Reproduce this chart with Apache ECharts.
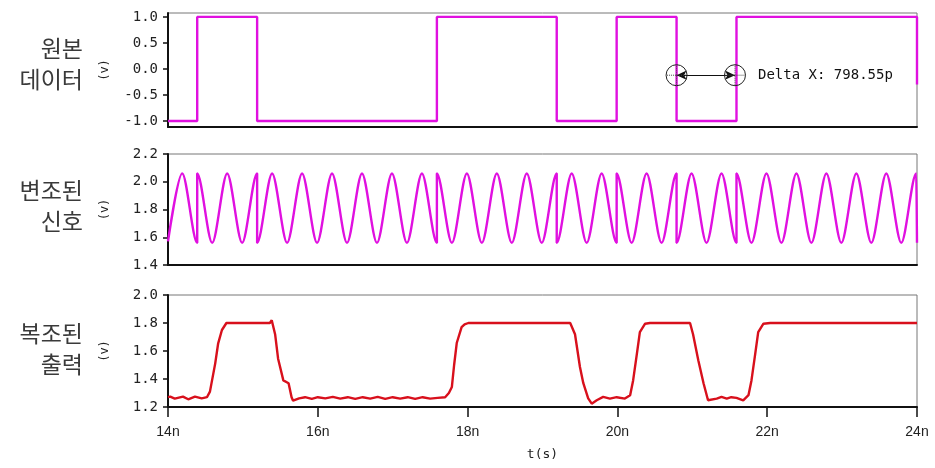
<!DOCTYPE html>
<html><head><meta charset="utf-8">
<script src="https://cdn.jsdelivr.net/npm/echarts@6/dist/echarts.min.js"></script>
<style>html,body{margin:0;padding:0;background:#fff}#c{width:935px;height:468px}</style>
</head><body><div id="c"></div>
<script>
// ---- data (time in ns, voltage in V) ----
const xTicks = [14, 16, 18, 20, 22, 24];
const dataTimes = [14.0, 14.39, 14.39, 15.19, 15.19, 17.59, 17.59, 19.19, 19.19, 19.99, 19.99, 20.79, 20.79, 21.59, 21.59, 24.0, 24.0];
const dataVolts = [-1.0, -1.0, 1.0, 1.0, -1.0, -1.0, 1.0, 1.0, -1.0, -1.0, 1.0, 1.0, -1.0, -1.0, 1.0, 1.0, -0.3];
const modTimes = [14.00, 14.19, 14.39, 14.39, 14.59, 14.79, 14.99, 15.19, 15.19, 15.39, 15.59, 15.79, 15.99, 16.19, 16.39, 16.59, 16.79, 16.99, 17.19, 17.39, 17.59, 17.59, 17.79, 17.99, 18.19, 18.39, 18.59, 18.79, 18.99, 19.19, 19.19, 19.39, 19.59, 19.79, 19.99, 19.99, 20.19, 20.39, 20.59, 20.79, 20.79, 20.99, 21.19, 21.39, 21.59, 21.59, 21.79, 21.99, 22.19, 22.39, 22.59, 22.79, 22.99, 23.19, 23.39, 23.59, 23.79, 23.99, 24.00];
const modVolts = [1.57, 2.06, 1.56, 2.06, 1.56, 2.06, 1.56, 2.06, 1.56, 2.06, 1.56, 2.06, 1.56, 2.06, 1.56, 2.06, 1.56, 2.06, 1.56, 2.06, 1.56, 2.06, 1.56, 2.06, 1.56, 2.06, 1.56, 2.06, 1.56, 2.06, 1.56, 2.06, 1.56, 2.06, 1.56, 2.06, 1.56, 2.06, 1.56, 2.06, 1.56, 2.06, 1.56, 2.06, 1.56, 2.06, 1.56, 2.06, 1.56, 2.06, 1.56, 2.06, 1.56, 2.06, 1.56, 2.06, 1.56, 2.06, 1.56];
const outTimes = [14.0, 14.03, 14.09, 14.2, 14.27, 14.36, 14.45, 14.52, 14.56, 14.63, 14.67, 14.72, 14.78, 15.36, 15.385, 15.43, 15.47, 15.54, 15.61, 15.65, 15.67,
  15.75, 15.83, 15.92, 16.0, 16.1, 16.2, 16.3, 16.4, 16.5, 16.6, 16.7, 16.8, 16.9, 17.0, 17.1, 17.2, 17.3, 17.4, 17.5, 17.6, 17.7,
  17.75, 17.79, 17.82, 17.855, 17.92, 17.96, 18.01, 19.37, 19.39, 19.434, 19.5, 19.545, 19.61, 19.657, 19.724, 19.81, 19.9, 19.99, 20.1, 20.17,
  20.21, 20.26, 20.3, 20.37, 20.435, 20.97, 21.01, 21.08, 21.15, 21.21, 21.236, 21.326, 21.39, 21.46, 21.52, 21.59, 21.68, 21.75,
  21.79, 21.84, 21.88, 21.95, 22.04, 24.0];
const outVolts = [1.27, 1.274, 1.26, 1.274, 1.255, 1.274, 1.262, 1.27, 1.31, 1.51, 1.655, 1.75, 1.80, 1.80, 1.82, 1.72, 1.545, 1.39, 1.37, 1.27, 1.245,
  1.262, 1.27, 1.258, 1.27, 1.262, 1.272, 1.26, 1.27, 1.258, 1.27, 1.26, 1.272, 1.258, 1.27, 1.26, 1.27, 1.258, 1.27, 1.26, 1.265, 1.27,
  1.30, 1.343, 1.50, 1.657, 1.77, 1.79, 1.80, 1.80, 1.81, 1.72, 1.486, 1.37, 1.262, 1.224, 1.248, 1.272, 1.26, 1.27, 1.26, 1.284,
  1.39, 1.58, 1.735, 1.795, 1.80, 1.80, 1.72, 1.534, 1.37, 1.248, 1.236, 1.26, 1.272, 1.26, 1.27, 1.265, 1.248, 1.284,
  1.39, 1.58, 1.735, 1.795, 1.80, 1.80];
const dataTicks = [-1.0, -0.5, 0.0, 0.5, 1.0];
const modTicks = [1.4, 1.6, 1.8, 2.0, 2.2];
const outTicks = [1.2, 1.4, 1.6, 1.8, 2.0];
const deltaTimes = [20.79, 21.57];
const deltaLevel = -0.12;
const deltaText = 'Delta X: 798.55p';
const panelNames = [['원본', '데이터'], ['변조된', '신호'], ['복조된', '출력']];
const axisName = '(v)';
const xName = 't(s)';

const zip = (a, b) => a.map((v, i) => [v, b[i]]);
const MONO = '"DejaVu Sans Mono", monospace';
const MAG = '#e010e0';

const chart = echarts.init(document.getElementById('c'), null, { renderer: 'canvas' });

const grids = [
  { left: 168, right: 18, top: 13, height: 114 },
  { left: 168, right: 18, top: 154, height: 111 },
  { left: 168, right: 18, top: 295, height: 112 }
].map(g => Object.assign(g, { show: true, borderColor: '#777', borderWidth: 1, backgroundColor: '#fff', containLabel: false }));

const yRanges = [[-1.115, 1.075, dataTicks], [1.4, 2.2, modTicks], [1.2, 2.0, outTicks]];

const xAxes = [0, 1, 2].map(i => ({
  type: 'value', gridIndex: i, min: 14, max: 24, interval: 2,
  axisLine: { show: true, onZero: false, lineStyle: { color: '#111', width: 2 } },
  axisTick: { show: i === 2, length: 10, lineStyle: { color: '#111', width: 1.5 } },
  axisLabel: { show: i === 2, formatter: v => v + 'n', margin: 18, fontFamily: '"Liberation Sans", Arial, sans-serif', fontSize: 14, color: '#222' },
  splitLine: { show: false },
  name: i === 2 ? xName : '', nameLocation: 'middle', nameGap: 41,
  nameTextStyle: { fontFamily: MONO, fontSize: 13, color: '#222' }
}));

const yAxes = [0, 1, 2].map(i => ({
  type: 'value', gridIndex: i, min: yRanges[i][0], max: yRanges[i][1],
  axisLine: { show: true, onZero: false, lineStyle: { color: '#111', width: 2 } },
  axisTick: { show: true, length: 5, customValues: yRanges[i][2], lineStyle: { color: '#111', width: 1.5 } },
  axisLabel: { customValues: yRanges[i][2], formatter: v => Number(v).toFixed(1), margin: 10, fontFamily: MONO, fontSize: 14, color: '#222' },
  splitLine: { show: false },
  name: axisName, nameLocation: 'middle', nameRotate: 90, nameGap: 57,
  nameTextStyle: { fontFamily: MONO, fontSize: 12, color: '#222' }
}));

const circlePath = 'path://M0,10 A10,10 0 1,1 20,10 A10,10 0 1,1 0,10 Z';
const crossPath = 'path://M10,0 L10,20 M0,10 L20,10';

const series = [
  {
    type: 'line', xAxisIndex: 0, yAxisIndex: 0, data: zip(dataTimes, dataVolts),
    showSymbol: false, lineStyle: { color: MAG, width: 2.4 }, animation: false, silent: true,
    markLine: {
      silent: true, animation: false, symbol: ['arrow', 'arrow'], symbolSize: [7, 10],
      lineStyle: { color: '#111', width: 1, type: 'solid' },
      label: { show: false },
      data: [[{ coord: [deltaTimes[0], deltaLevel] }, { coord: [deltaTimes[1], deltaLevel] }]]
    },
    markPoint: {
      silent: true, animation: false,
      data: [
        { coord: [deltaTimes[0], deltaLevel], symbol: circlePath, symbolSize: 21, itemStyle: { color: 'rgba(0,0,0,0)', borderColor: '#222', borderWidth: 1 }, label: { show: false } },
        { coord: [deltaTimes[1], deltaLevel], symbol: circlePath, symbolSize: 21, itemStyle: { color: 'rgba(0,0,0,0)', borderColor: '#222', borderWidth: 1 },
          label: { show: true, position: 'right', distance: 12, formatter: deltaText, fontFamily: MONO, fontSize: 14, color: '#111' } },
        { coord: [deltaTimes[0], deltaLevel], symbol: crossPath, symbolSize: 19, itemStyle: { color: 'rgba(0,0,0,0)', borderColor: '#444', borderWidth: 1, borderType: 'dotted' }, label: { show: false } },
        { coord: [deltaTimes[1], deltaLevel], symbol: crossPath, symbolSize: 19, itemStyle: { color: 'rgba(0,0,0,0)', borderColor: '#444', borderWidth: 1, borderType: 'dotted' }, label: { show: false } }
      ]
    }
  },
  {
    type: 'line', xAxisIndex: 1, yAxisIndex: 1, data: zip(modTimes, modVolts),
    showSymbol: false, smooth: 0.3, smoothMonotone: 'x', lineStyle: { color: MAG, width: 2.4 }, animation: false, silent: true
  },
  {
    type: 'line', xAxisIndex: 2, yAxisIndex: 2, data: zip(outTimes, outVolts),
    showSymbol: false, lineStyle: { color: '#d8101c', width: 2.4 }, animation: false, silent: true
  }
];

const labelCenters = [[48, 79], [190, 221], [333, 364]];
const graphic = [];
panelNames.forEach((lines, i) => {
  lines.forEach((t, j) => {
    graphic.push({
      type: 'text', x: 83, y: labelCenters[i][j], silent: true,
      style: { text: t, fill: '#3a3a3a', font: '23px "Noto Sans CJK KR", sans-serif', align: 'right', verticalAlign: 'middle' }
    });
  });
});

chart.setOption({
  backgroundColor: '#fff',
  animation: false,
  grid: grids,
  xAxis: xAxes,
  yAxis: yAxes,
  series: series,
  graphic: graphic
});
</script>
</body></html>
